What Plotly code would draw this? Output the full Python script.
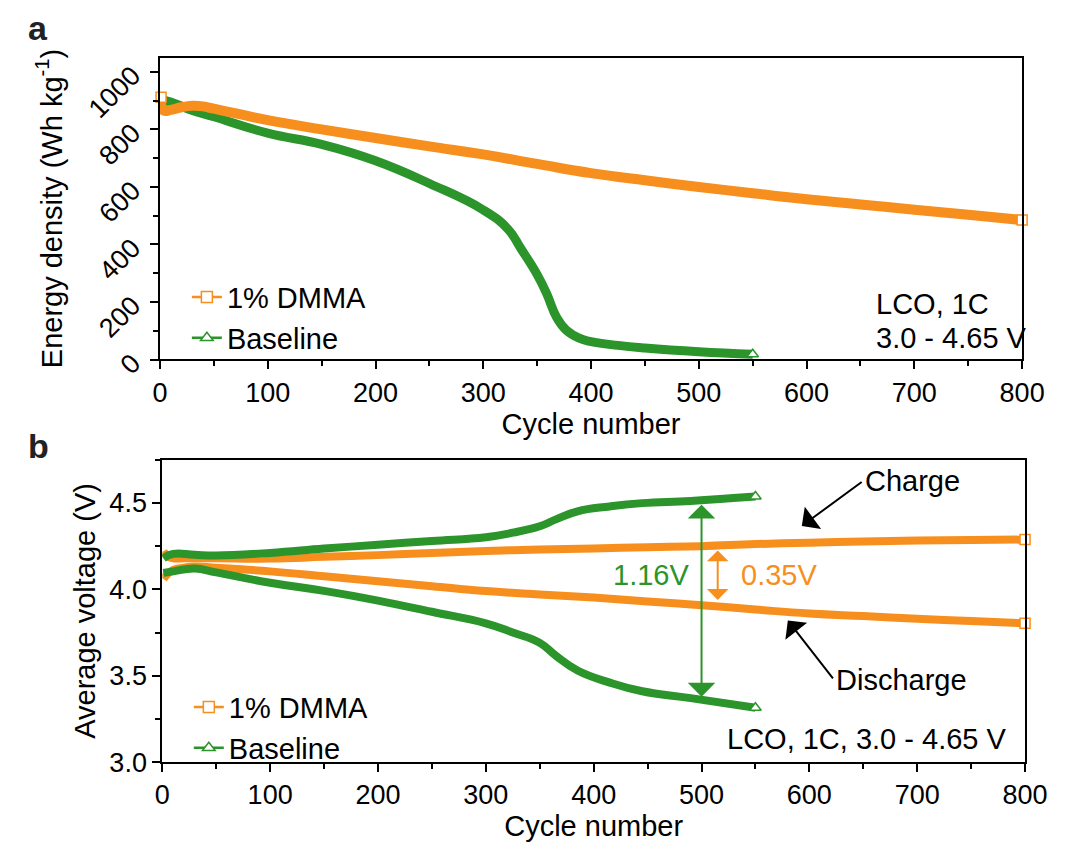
import plotly.graph_objects as go

# ---------------- data ----------------
# Panel a: energy density (Wh kg-1) vs cycle number
cyc_a_dmma = [1, 3, 10, 20, 30, 40, 50, 75, 100, 150, 200, 250, 300, 350, 400,
              450, 500, 550, 600, 650, 700, 750, 800]
energy_dmma = [912, 866, 868, 877, 882, 880, 872, 852, 832, 800, 770, 741, 713,
               680, 648, 623, 600, 578, 557, 539, 521, 503, 485]

cyc_a_base = [1, 10, 30, 50, 100, 150, 200, 250, 300, 323, 335, 350, 359, 368,
              377, 389, 400, 425, 450, 500, 550]
energy_base = [903, 895, 866, 844, 787, 748, 691, 612, 520, 453, 385, 295, 227,
               147, 102, 74, 62, 49, 40, 27, 18]

# Panel b: average voltage (V) vs cycle number
cyc_b_dmma = [1, 5, 10, 20, 30, 50, 100, 150, 200, 250, 300, 350, 400, 450, 500,
              550, 600, 650, 700, 750, 800]
v_charge_dmma = [4.22, 4.19, 4.18, 4.18, 4.18, 4.18, 4.178, 4.188, 4.198, 4.21,
                 4.222, 4.23, 4.237, 4.244, 4.25, 4.262, 4.27, 4.277, 4.282,
                 4.286, 4.288]
v_discharge_dmma = [4.06, 4.09, 4.113, 4.125, 4.132, 4.125, 4.104, 4.076, 4.047,
                    4.018, 3.99, 3.97, 3.952, 3.93, 3.908, 3.883, 3.86, 3.845,
                    3.83, 3.816, 3.803]

cyc_b_base = [1, 10, 30, 50, 100, 150, 200, 250, 300, 325, 350, 365, 385, 415,
              445, 490, 550]
v_charge_base = [4.18, 4.205, 4.20, 4.196, 4.211, 4.236, 4.258, 4.28, 4.302,
                 4.328, 4.365, 4.405, 4.452, 4.48, 4.499, 4.512, 4.537]
v_discharge_base = [4.095, 4.104, 4.12, 4.098, 4.038, 3.991, 3.935, 3.87, 3.803,
                    3.75, 3.69, 3.615, 3.53, 3.46, 3.41, 3.37, 3.314]

series_names = ["1% DMMA", "Baseline"]

x_ticks = [0, 100, 200, 300, 400, 500, 600, 700, 800]
ya_ticks = [0, 200, 400, 600, 800, 1000]
yb_ticks = [3.0, 3.5, 4.0, 4.5]

# ---------------- styling ----------------
ORANGE = "#F78F1E"
GREEN = "#2B942B"
FONT = "Liberation Sans, Arial, sans-serif"
W, H = 1065, 847
TXT = 29
TICK = 27

fig = go.Figure()


def band(x, y, color, width, xa, ya):
    fig.add_trace(go.Scatter(
        x=x, y=y, mode="lines", xaxis=xa, yaxis=ya, showlegend=False,
        line=dict(color=color, width=width, shape="spline", smoothing=1.3),
        hoverinfo="skip"))


def end_marker(x, y, color, symbol, xa, ya):
    fig.add_trace(go.Scatter(
        x=x, y=y, mode="markers", xaxis=xa, yaxis=ya, showlegend=False,
        marker=dict(symbol=symbol, size=10, color="white",
                    line=dict(color=color, width=1.5)),
        cliponaxis=False, hoverinfo="skip"))


# Panel a
band(cyc_a_base, energy_base, GREEN, 9, "x", "y")
band(cyc_a_dmma, energy_dmma, ORANGE, 10, "x", "y")
end_marker([cyc_a_base[-1]], [energy_base[-1]], GREEN, "triangle-up", "x", "y")
end_marker([cyc_a_dmma[0], cyc_a_dmma[-1]], [energy_dmma[0], energy_dmma[-1]],
           ORANGE, "square", "x", "y")

# Panel b
band(cyc_b_dmma, v_charge_dmma, ORANGE, 8, "x2", "y2")
band(cyc_b_dmma, v_discharge_dmma, ORANGE, 8, "x2", "y2")
band(cyc_b_base, v_charge_base, GREEN, 8, "x2", "y2")
band(cyc_b_base, v_discharge_base, GREEN, 8, "x2", "y2")
end_marker([cyc_b_dmma[-1], cyc_b_dmma[-1]], [v_charge_dmma[-1], v_discharge_dmma[-1]],
           ORANGE, "square", "x2", "y2")
end_marker([cyc_b_base[-1], cyc_b_base[-1]], [v_charge_base[-1], v_discharge_base[-1]],
           GREEN, "triangle-up", "x2", "y2")

# Legend entries
for leg, xa, ya in (("legend", "x", "y"), ("legend2", "x2", "y2")):
    for name, color, sym in ((series_names[0], ORANGE, "square"),
                             (series_names[1], GREEN, "triangle-up")):
        fig.add_trace(go.Scatter(
            x=[None], y=[None], mode="lines+markers", name=name, legend=leg,
            xaxis=xa, yaxis=ya,
            line=dict(color=color, width=2.5),
            marker=dict(symbol=sym, size=11, color="white",
                        line=dict(color=color, width=1.5))))

axis_common = dict(
    showline=True, linecolor="black", linewidth=2, mirror=True,
    ticks="outside", ticklen=8, tickwidth=2, tickcolor="black",
    showgrid=False, zeroline=False,
    tickfont=dict(family=FONT, size=TICK, color="black"),
)
minor_common = dict(ticks="outside", ticklen=5, tickwidth=2, tickcolor="black")

fig.update_layout(
    width=W, height=H,
    margin=dict(l=0, r=0, t=0, b=0),
    paper_bgcolor="white", plot_bgcolor="white",
    font=dict(family=FONT, color="black"),
    xaxis=dict(**axis_common, domain=[148.3 / W, 1036.3 / W], anchor="y",
               range=[0, 800], tickvals=x_ticks,
               minor=dict(**minor_common, dtick=50),
               title=dict(text="Cycle number", font=dict(family=FONT, size=TXT), standoff=0)),
    yaxis=dict(**axis_common, domain=[1 - 360 / H, 1 - 50.7 / H], anchor="x",
               range=[0, 1050], tickvals=ya_ticks, tickangle=-45,
               ticklabelstandoff=12,
               minor=dict(**minor_common, dtick=100),
               title=dict(text="Energy density (Wh kg<sup>-1</sup>)",
                          font=dict(family=FONT, size=TXT), standoff=12)),
    xaxis2=dict(**axis_common, domain=[150.7 / W, 1039.3 / W], anchor="y2",
                range=[0, 800], tickvals=x_ticks,
                minor=dict(**minor_common, dtick=50),
                title=dict(text="Cycle number", font=dict(family=FONT, size=TXT), standoff=4)),
    yaxis2=dict(**axis_common, domain=[1 - 772.3 / H, 1 - 462.7 / H], anchor="x2",
                range=[3.0, 4.75], tickvals=yb_ticks, tickformat=".1f",
                minor=dict(**minor_common, dtick=0.25),
                title=dict(text="Average voltage (V)", font=dict(family=FONT, size=TXT), standoff=5)),
    legend=dict(x=176 / W, y=1 - 270 / H, xanchor="left", yanchor="top",
                bgcolor="rgba(0,0,0,0)", font=dict(family=FONT, size=TXT),
                tracegroupgap=0),
    legend2=dict(x=178 / W, y=1 - 690 / H, xanchor="left", yanchor="top",
                 bgcolor="rgba(0,0,0,0)", font=dict(family=FONT, size=TXT),
                 tracegroupgap=0),
)

ann = []
# panel labels
ann.append(dict(text="<b>a</b>", x=10 / W, y=1 - 20 / H, xref="paper", yref="paper",
                xanchor="left", yanchor="middle", showarrow=False,
                font=dict(family=FONT, size=34, color="#222")))
ann.append(dict(text="<b>b</b>", x=10 / W, y=1 - 449 / H, xref="paper", yref="paper",
                xanchor="left", yanchor="middle", showarrow=False,
                font=dict(family=FONT, size=34, color="#222")))
# panel a condition text
ann.append(dict(text="LCO, 1C", x=663, y=193, xref="x", yref="y", xanchor="left",
                yanchor="middle", showarrow=False, font=dict(family=FONT, size=TXT)))
ann.append(dict(text="3.0 - 4.65 V", x=663, y=74, xref="x", yref="y", xanchor="left",
                yanchor="middle", showarrow=False, font=dict(family=FONT, size=TXT)))
# panel b
ann.append(dict(text="LCO, 1C, 3.0 - 4.65 V", x=522, y=3.135, xref="x2", yref="y2",
                xanchor="left", yanchor="middle", showarrow=False,
                font=dict(family=FONT, size=TXT)))
# double arrows (voltage gaps)
ann.append(dict(x=500, y=4.49, ax=500, ay=3.37, xref="x2", yref="y2", axref="x2",
                ayref="y2", text="", showarrow=True, arrowhead=1, arrowside="end+start",
                arrowsize=2.3, arrowwidth=2, arrowcolor=GREEN))
ann.append(dict(x=515, y=4.225, ax=515, ay=3.93, xref="x2", yref="y2", axref="x2",
                ayref="y2", text="", showarrow=True, arrowhead=1, arrowside="end+start",
                arrowsize=1.8, arrowwidth=2, arrowcolor=ORANGE))
ann.append(dict(text="1.16V", x=490, y=4.085, xref="x2", yref="y2", xanchor="right",
                yanchor="middle", showarrow=False,
                font=dict(family=FONT, size=TXT, color=GREEN)))
ann.append(dict(text="0.35V", x=535, y=4.085, xref="x2", yref="y2", xanchor="left",
                yanchor="middle", showarrow=False,
                font=dict(family=FONT, size=TXT, color=ORANGE)))
# Charge / Discharge labels with their arrows (tail at the text's left edge)
ann.append(dict(text="Charge", x=593, y=4.367, ax=650, ay=4.628, xref="x2", yref="y2",
                axref="x2", ayref="y2", xanchor="left", yanchor="middle",
                showarrow=True, arrowhead=1, arrowsize=2.3, arrowwidth=2,
                arrowcolor="black", startstandoff=2,
                font=dict(family=FONT, size=TXT)))
ann.append(dict(text="Discharge", x=580, y=3.82, ax=623, ay=3.475, xref="x2", yref="y2",
                axref="x2", ayref="y2", xanchor="left", yanchor="middle",
                showarrow=True, arrowhead=1, arrowsize=2.3, arrowwidth=2,
                arrowcolor="black", startstandoff=2,
                font=dict(family=FONT, size=TXT)))
fig.update_layout(annotations=ann)

fig.write_html("out.html")
